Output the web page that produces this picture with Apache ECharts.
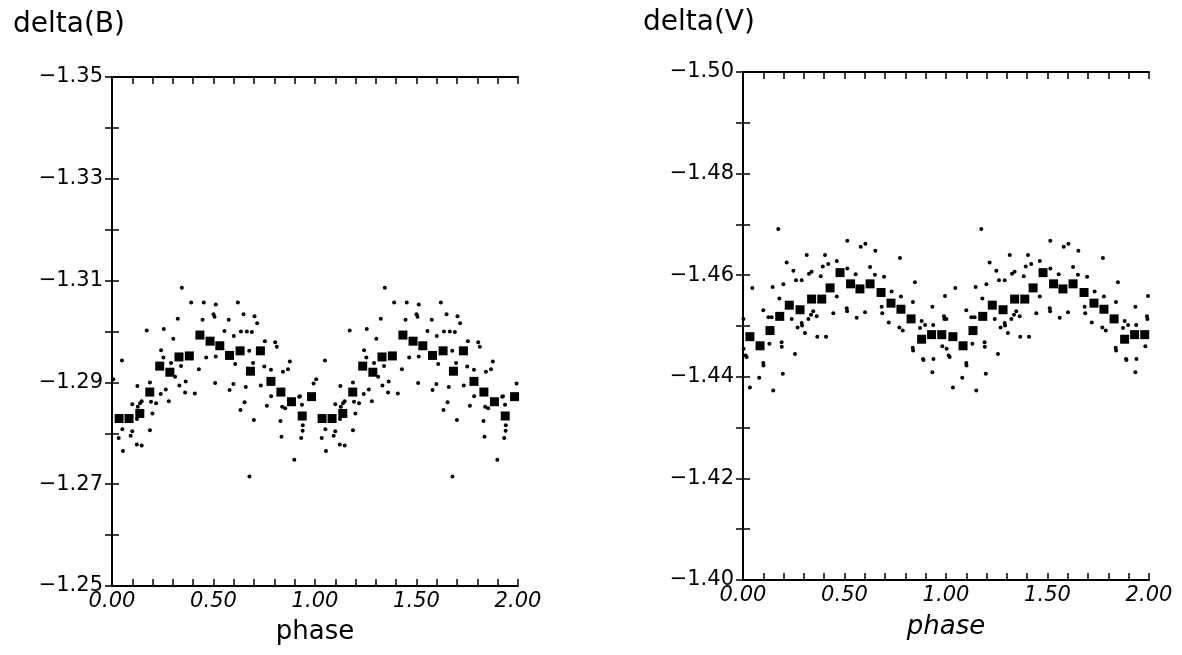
<!DOCTYPE html>
<html>
<head>
<meta charset="utf-8">
<script src="https://cdn.jsdelivr.net/npm/echarts@6/dist/echarts.min.js"></script>
<style>html,body{margin:0;padding:0;background:#fff}#c{width:1182px;height:655px}</style>
</head>
<body>
<div id="c"></div>
<script>
// ---- Left panel: delta(B) ----
const binPhaseB = [0.035,0.084,0.137,0.186,0.235,0.285,0.330,0.381,0.433,0.483,0.531,0.579,0.631,0.682,0.731,0.783,0.832,0.884,0.937,0.983];
const binB = [-1.2829,-1.2829,-1.2839,-1.2881,-1.2932,-1.2920,-1.2950,-1.2952,-1.2993,-1.2981,-1.2972,-1.2953,-1.2962,-1.2922,-1.2962,-1.2902,-1.2881,-1.2862,-1.2834,-1.2872];
const obsPhaseB = [0.344,0.390,0.452,0.511,0.620,0.324,0.446,0.500,0.505,0.575,0.648,0.702,0.715,0.171,0.255,0.302,0.554,0.600,0.635,0.664,0.689,0.753,0.804,0.812,0.242,0.253,0.291,0.340,0.464,0.511,0.428,0.607,0.676,0.695,0.750,0.783,0.842,0.867,0.876,0.049,0.187,0.125,0.311,0.363,0.332,0.508,0.598,0.659,0.579,0.733,0.265,0.240,0.280,0.360,0.408,0.217,0.192,0.146,0.138,0.127,0.100,0.199,0.123,0.653,0.633,0.763,0.784,0.838,0.853,0.926,0.699,0.830,0.051,0.100,0.187,0.092,0.033,0.122,0.146,0.054,0.835,0.898,0.677,0.936,0.940,0.939,0.932,0.922,0.993,0.006];
const obsB = [-1.3086,-1.3057,-1.3057,-1.3053,-1.3057,-1.3025,-1.3023,-1.3034,-1.3029,-1.3023,-1.3034,-1.3030,-1.3016,-1.3002,-1.3005,-1.2986,-1.3001,-1.2991,-1.3000,-1.3000,-1.2999,-1.2981,-1.2979,-1.2970,-1.2963,-1.2949,-1.2938,-1.2932,-1.2949,-1.2951,-1.2926,-1.2936,-1.2962,-1.2938,-1.2931,-1.2925,-1.2921,-1.2926,-1.2941,-1.2943,-1.2900,-1.2893,-1.2911,-1.2902,-1.2894,-1.2899,-1.2897,-1.2891,-1.2885,-1.2894,-1.2886,-1.2877,-1.2863,-1.2880,-1.2878,-1.2859,-1.2862,-1.2863,-1.2859,-1.2852,-1.2857,-1.2839,-1.2828,-1.2861,-1.2846,-1.2854,-1.2873,-1.2852,-1.2849,-1.2873,-1.2826,-1.2824,-1.2808,-1.2804,-1.2806,-1.2795,-1.2791,-1.2778,-1.2776,-1.2765,-1.2793,-1.2748,-1.2715,-1.2856,-1.2816,-1.2805,-1.2791,-1.2872,-1.2898,-1.2906];

// ---- Right panel: delta(V) ----
const binPhaseV = [0.034,0.084,0.133,0.181,0.228,0.281,0.338,0.388,0.429,0.478,0.530,0.576,0.626,0.680,0.729,0.778,0.828,0.880,0.929,0.979];
const binV = [-1.4479,-1.4461,-1.4491,-1.4519,-1.4541,-1.4532,-1.4553,-1.4553,-1.4575,-1.4605,-1.4583,-1.4573,-1.4583,-1.4566,-1.4545,-1.4533,-1.4514,-1.4474,-1.4483,-1.4483];
const obsPhaseV = [0.174,0.514,0.580,0.603,0.652,0.773,0.314,0.404,0.215,0.462,0.420,0.393,0.248,0.338,0.325,0.514,0.626,0.383,0.555,0.650,0.695,0.289,0.261,0.046,0.146,0.199,0.847,0.732,0.778,0.179,0.995,0.933,0.837,0.462,0.511,0.513,0.601,0.445,0.560,0.683,0.686,0.718,0.770,0.787,0.100,0.125,0.141,0.240,0.289,0.291,0.269,0.322,0.335,0.346,0.363,0.305,0.366,0.409,0.880,0.897,0.937,0.872,0.992,0.990,0.002,0.190,0.191,0.130,0.256,0.100,0.101,0.080,0.196,0.034,0.149,0.018,0.836,0.838,0.887,0.889,0.938,0.933,0.982,0.003,0.013];
const obsV = [-1.4691,-1.4668,-1.4656,-1.4662,-1.4648,-1.4634,-1.4640,-1.4640,-1.4625,-1.4628,-1.4622,-1.4617,-1.4609,-1.4607,-1.4603,-1.4613,-1.4616,-1.4598,-1.4602,-1.4601,-1.4597,-1.4590,-1.4590,-1.4575,-1.4577,-1.4582,-1.4586,-1.4568,-1.4558,-1.4554,-1.4559,-1.4538,-1.4547,-1.4558,-1.4535,-1.4529,-1.4527,-1.4525,-1.4516,-1.4538,-1.4525,-1.4507,-1.4497,-1.4491,-1.4531,-1.4517,-1.4517,-1.4514,-1.4506,-1.4501,-1.4497,-1.4514,-1.4522,-1.4529,-1.4519,-1.4486,-1.4479,-1.4479,-1.4510,-1.4502,-1.4502,-1.4496,-1.4514,-1.4519,-1.4514,-1.4468,-1.4459,-1.4465,-1.4445,-1.4427,-1.4422,-1.4398,-1.4406,-1.4379,-1.4373,-1.4439,-1.4457,-1.4452,-1.4435,-1.4433,-1.4435,-1.4409,-1.4460,-1.4455,-1.4442];

// Each cycle is plotted twice (phase 0-1 and 1-2), as in the original
function twoCycles(ph, val) {
  const out = [];
  for (let k = 0; k < 2; k++) {
    for (let i = 0; i < ph.length; i++) {
      const p = ph[i] + k;
      if (p >= 0 && p <= 2) out.push([p, val[i]]);
    }
  }
  return out;
}

const FONT = 'DejaVu Sans';
const lineStyle = { color: '#000', width: 2 };
const tickStyle = { color: '#000', width: 1.5 };

function xAxes(gridIndex, italicName, nameGap) {
  return [
    {
      type: 'value', gridIndex, min: 0, max: 2, interval: 0.1, position: 'bottom',
      axisLine: { show: true, lineStyle }, splitLine: { show: false },
      axisTick: { show: true, inside: true, length: 7, lineStyle: tickStyle },
      axisLabel: {
        color: '#000', fontFamily: FONT, fontSize: 21, fontStyle: 'italic', margin: 5,
        formatter: v => (Math.round(v * 10) % 5 === 0 ? v.toFixed(2) : '')
      },
      name: 'phase', nameLocation: 'middle', nameGap: nameGap,
      nameTextStyle: { color: '#000', fontFamily: FONT, fontSize: 26, fontStyle: italicName ? 'italic' : 'normal' }
    },
    {
      type: 'value', gridIndex, min: 0, max: 2, interval: 0.1, position: 'top',
      axisLine: { show: true, lineStyle }, splitLine: { show: false },
      axisTick: { show: true, inside: true, length: 7, lineStyle: tickStyle },
      axisLabel: { show: false }
    }
  ];
}

function yAxes(gridIndex, mn, mx) {
  const base = Math.round(mn * 100);
  return [
    {
      type: 'value', gridIndex, min: mn, max: mx, interval: 0.01, inverse: true, position: 'left',
      axisLine: { show: true, lineStyle }, splitLine: { show: false },
      axisTick: { show: true, inside: true, length: 7, lineStyle: tickStyle },
      axisLabel: {
        color: '#000', fontFamily: FONT, fontSize: 21, margin: 9,
        formatter: v => ((Math.round(v * 100) - base) % 2 === 0 ? '\u2212' + Math.abs(v).toFixed(2) : '')
      }
    },
    {
      type: 'value', gridIndex, min: mn, max: mx, interval: 0.01, inverse: true, position: 'right',
      axisLine: { show: true, lineStyle }, splitLine: { show: false },
      axisTick: { show: true, inside: true, length: 7, lineStyle: tickStyle },
      axisLabel: { show: false }
    }
  ];
}

const dotStyle = { color: '#000', opacity: 1 };

const option = {
  backgroundColor: '#fff',
  animation: false,
  title: [
    { text: 'delta(B)', left: 8, top: 6, textStyle: { fontFamily: FONT, fontSize: 28, fontWeight: 'normal', color: '#000' } },
    { text: 'delta(V)', left: 638, top: 4, textStyle: { fontFamily: FONT, fontSize: 28, fontWeight: 'normal', color: '#000' } }
  ],
  grid: [
    { left: 112, top: 77, width: 406, height: 509 },
    { left: 743, top: 72, width: 406, height: 508 }
  ],
  xAxis: [...xAxes(0, false, 33), ...xAxes(1, true, 34)],
  yAxis: [...yAxes(0, -1.35, -1.25), ...yAxes(1, -1.50, -1.40)],
  series: [
    { type: 'scatter', xAxisIndex: 0, yAxisIndex: 0, symbol: 'circle', symbolSize: 4, itemStyle: dotStyle, data: twoCycles(obsPhaseB, obsB) },
    { type: 'scatter', xAxisIndex: 0, yAxisIndex: 0, symbol: 'rect', symbolSize: 9, itemStyle: dotStyle, data: twoCycles(binPhaseB, binB) },
    { type: 'scatter', xAxisIndex: 2, yAxisIndex: 2, symbol: 'circle', symbolSize: 4, itemStyle: dotStyle, data: twoCycles(obsPhaseV, obsV) },
    { type: 'scatter', xAxisIndex: 2, yAxisIndex: 2, symbol: 'rect', symbolSize: 9, itemStyle: dotStyle, data: twoCycles(binPhaseV, binV) }
  ]
};

const chart = echarts.init(document.getElementById('c'), null, { renderer: 'canvas' });
chart.setOption(option);
</script>
</body>
</html>
